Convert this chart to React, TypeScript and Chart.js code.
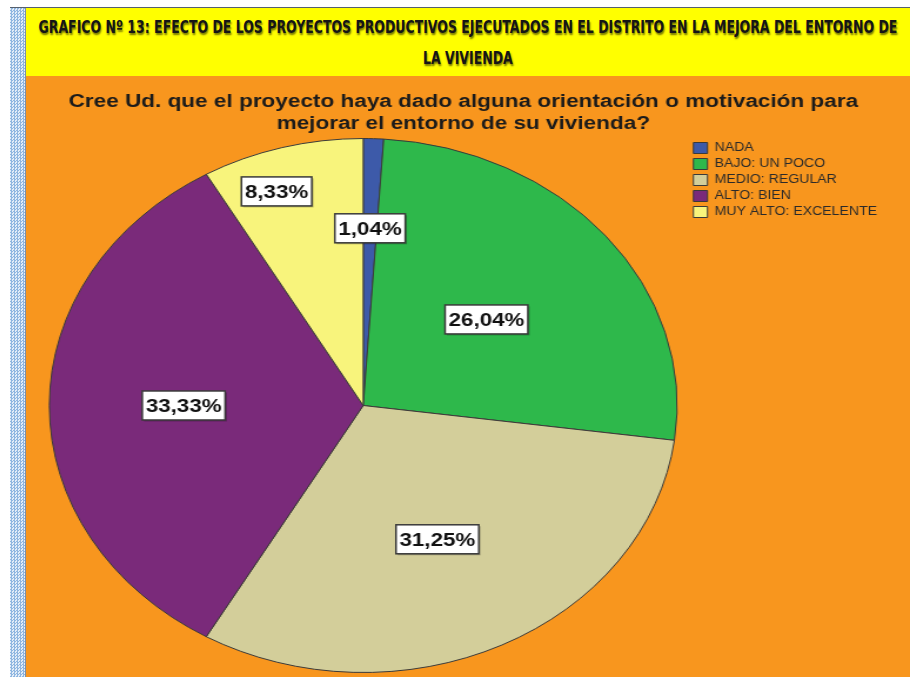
import React, { useEffect, useLayoutEffect, useRef } from "react";
import { Chart, registerables } from "chart.js";

Chart.register(...registerables);

// ---------- data ----------
const categories = ["NADA", "BAJO: UN POCO", "MEDIO: REGULAR", "ALTO: BIEN", "MUY ALTO: EXCELENTE"];
const percentages = [1.04, 26.04, 31.25, 33.33, 8.33];
const sliceColors = ["#3d5aa9", "#2eb84b", "#d3ce9a", "#7a2a7a", "#f8f47c"];
const bannerLines = [
  "GRAFICO Nº 13:  EFECTO DE LOS PROYECTOS PRODUCTIVOS EJECUTADOS EN EL DISTRITO EN LA MEJORA DEL ENTORNO DE",
  "LA VIVIENDA",
];
const questionLines = [
  "Cree Ud. que el proyecto haya dado alguna orientación o motivación para",
  "mejorar el entorno de su vivienda?",
];

// ---------- styling ----------
const STRETCH = 884 / 752; // the original picture is stretched horizontally
const labelRadius = [0.664, 0.508, 0.554, 0.572, 0.848];
const labelAngleShift = [0, 0, 1, 0, -4];

const fmt = (v: number) => v.toFixed(2).replace(".", ",") + "%";

const labelPlugin = {
  id: "boxedLabels",
  afterDatasetsDraw(chart: any) {
    const ctx = chart.ctx as CanvasRenderingContext2D;
    const meta = chart.getDatasetMeta(0);
    ctx.save();
    ctx.font = 'bold 19px "Liberation Sans", Arial, sans-serif';
    ctx.textAlign = "center";
    ctx.textBaseline = "middle";
    meta.data.forEach((arc: any, i: number) => {
      const p = arc.getProps(["x", "y", "startAngle", "endAngle", "outerRadius"], true);
      const mid = (p.startAngle + p.endAngle) / 2 + (labelAngleShift[i] * Math.PI) / 180;
      const r = p.outerRadius * labelRadius[i];
      const px = p.x + Math.cos(mid) * r;
      const py = p.y + Math.sin(mid) * r;
      const text = fmt(percentages[i]);
      const w = ctx.measureText(text).width + 6;
      const h = 29;
      ctx.fillStyle = "rgba(0,0,0,0.25)";
      ctx.fillRect(px - w / 2 + 1.5, py - h / 2 + 1.5, w, h);
      ctx.fillStyle = "#ffffff";
      ctx.fillRect(px - w / 2, py - h / 2, w, h);
      ctx.strokeStyle = "#3a3a3a";
      ctx.lineWidth = 1.5;
      ctx.strokeRect(px - w / 2, py - h / 2, w, h);
      ctx.fillStyle = "#111111";
      ctx.fillText(text, px, py + 1);
    });
    ctx.restore();
  },
};

export default function App() {
  const canvasRef = useRef<HTMLCanvasElement | null>(null);
  const line1Ref = useRef<HTMLSpanElement | null>(null);
  const line2Ref = useRef<HTMLSpanElement | null>(null);

  useLayoutEffect(() => {
    const s1 = line1Ref.current;
    const s2 = line2Ref.current;
    if (s1 && s2) {
      const k = 859 / s1.offsetWidth;
      s1.style.transform = `scaleX(${k})`;
      s2.style.transform = `scaleX(${k})`;
    }
  }, []);

  useEffect(() => {
    if (!canvasRef.current) return;
    const chart = new Chart(canvasRef.current, {
      type: "pie",
      data: {
        labels: categories,
        datasets: [
          {
            data: percentages,
            backgroundColor: sliceColors,
            borderColor: "#3a3a3a",
            borderWidth: 1,
            clip: false as any,
          },
        ],
      },
      options: {
        animation: false,
        responsive: true,
        maintainAspectRatio: false,
        events: [],
        layout: { padding: { left: 10, right: 18, top: 0, bottom: 4 } },
        plugins: {
          title: {
            display: true,
            text: questionLines,
            color: "#1b1b1b",
            font: { family: '"Liberation Sans", Arial, sans-serif', size: 19.2, weight: "bold", lineHeight: 22 / 19.2 },
            padding: { top: 15, bottom: 3 },
          },
          legend: {
            position: "right",
            align: "start",
            fullSize: false,
            labels: {
              boxWidth: 12,
              boxHeight: 11,
              padding: 4,
              color: "#2a2a2a",
              font: { family: '"Liberation Sans", Arial, sans-serif', size: 12 },
            },
          },
          tooltip: { enabled: false },
        },
      } as any,
      plugins: [labelPlugin],
    });
    return () => chart.destroy();
  }, []);

  const bannerFont = '"Liberation Sans Narrow", "DejaVu Sans Condensed", "Liberation Sans", sans-serif';

  return (
    <div style={{ position: "absolute", left: 0, top: 0, width: 910, height: 677, background: "#ffffff", overflow: "hidden" }}>
      {/* top rule */}
      <div style={{ position: "absolute", left: 10, top: 7, width: 900, height: 1, background: "#55606e" }} />
      {/* dotted left strip */}
      <div
        style={{
          position: "absolute",
          left: 10,
          top: 8,
          width: 15,
          height: 669,
          background: "repeating-conic-gradient(#8fb6e0 0% 25%, #e2ecf8 0% 50%) 0 0 / 3px 3px",
        }}
      />
      <div style={{ position: "absolute", left: 25, top: 8, width: 1, height: 669, background: "#7d8fa6" }} />
      {/* yellow banner */}
      <div style={{ position: "absolute", left: 26, top: 8, width: 884, height: 68, background: "#ffff00" }}>
        {bannerLines.map((t, i) => (
          <div
            key={i}
            style={{
              position: "absolute",
              left: 0,
              width: 884,
              top: i === 0 ? 9 : 40,
              height: 20,
              lineHeight: "20px",
              display: "flex",
              justifyContent: "center",
              whiteSpace: "nowrap",
            }}
          >
            <span
              ref={i === 0 ? line1Ref : line2Ref}
              style={{
                display: "inline-block",
                flex: "none",
                fontFamily: bannerFont,
                fontWeight: "bold",
                fontSize: 17,
                color: "#151515",
                textShadow: "1px 2px 2px rgba(0,0,0,0.55)",
                transformOrigin: "50% 50%",
              }}
            >
              {t}
            </span>
          </div>
        ))}
      </div>
      {/* orange chart panel */}
      <div style={{ position: "absolute", left: 26, top: 76, width: 884, height: 601, background: "#f8961e" }} />
      <div
        style={{
          position: "absolute",
          left: 26,
          top: 76,
          width: 752,
          height: 601,
          transform: `scaleX(${STRETCH})`,
          transformOrigin: "0 0",
        }}
      >
        <canvas ref={canvasRef} style={{ display: "block" }} />
      </div>
    </div>
  );
}
